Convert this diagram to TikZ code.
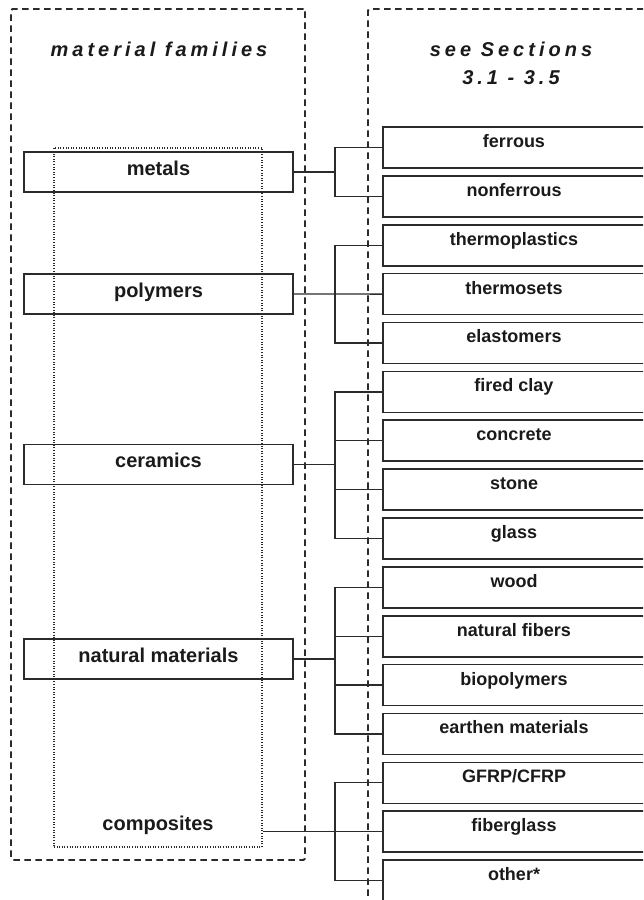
\documentclass[tikz,border=0pt]{standalone}
\usepackage{fontspec}
\setmainfont{Liberation Sans}
\newfontfamily\headfont[LetterSpace=20]{Liberation Sans}
\usetikzlibrary{calc}
\definecolor{ln}{HTML}{2B2B2B}
\definecolor{tx}{HTML}{1A1A1A}
\begin{document}
\begin{tikzpicture}[x=1pt,y=-1pt,
  frame/.style={draw=ln, line width=1.9pt, dash pattern=on 6.5pt off 4.5pt, rounded corners=1.5pt, inner sep=0pt},
  dotbox/.style={draw=ln, line width=1.1pt, dash pattern=on 1pt off 1.6pt, inner sep=0pt},
  fam/.style={draw=ln, line width=1.6pt, minimum width=269pt, minimum height=40pt, inner sep=0pt,
    text height=15pt, text depth=9pt, text=tx, font=\fontsize{20}{24}\selectfont\bfseries},
  sub/.style={draw=ln, line width=1.6pt, minimum width=262pt, minimum height=41pt, inner sep=0pt,
    text height=13pt, text depth=13pt, text=tx, font=\fontsize{18}{22}\selectfont\bfseries},
  head/.style={text=tx, inner sep=0pt, anchor=base, font=\fontsize{20}{24}\headfont\bfseries\itshape},
  conn/.style={draw=ln, line width=1.3pt}]
\useasboundingbox (0,0) rectangle (643,900);
\clip (0,0) rectangle (643,900);
% frames
\node[frame, minimum width=294pt, minimum height=851pt] (lframe) at (158,434.5) {};
\node[frame, minimum width=332pt, minimum height=951pt] (rframe) at (534,484.5) {};
% headings
\node[head] (h1) at (159,56.5) {material families};
\node[head] (h2) at (511,56.5) {see Sections};
\node[head] (h3) at (511,84) {3.1 - 3.5};
% composites dotted box
\node[dotbox, minimum width=208pt, minimum height=699pt] (compbox) at (158,497.5) {};
\node[text=tx, inner sep=0pt, anchor=base, font=\fontsize{20}{24}\selectfont\bfseries] (comp) at (158,830) {composites};
% family boxes
\node[fam] (metals) at (158.5,172) {metals};
\node[fam] (polymers) at (158.5,294) {polymers};
\node[fam] (ceramics) at (158.5,464.5) {ceramics};
\node[fam] (natural) at (158.5,659) {natural materials};
% sub boxes
\foreach \t [count=\i from 0] in {ferrous,nonferrous,thermoplastics,thermosets,elastomers,fired clay,concrete,stone,glass,wood,natural fibers,biopolymers,earthen materials,GFRP/CFRP,fiberglass,other*}
  \node[sub] (r\i) at (514,{147.5+48.87*\i}) {\t};
\coordinate (jx) at (335,0);
% metals
\draw[conn] (metals.east) -- (metals.east -| jx);
\draw[conn] (r0.west) -- (r0.west -| jx) -- (r1.west -| jx) -- (r1.west);
% polymers
\draw[conn] (polymers.east) -- (r3.west);
\draw[conn] (r2.west) -- (r2.west -| jx) -- (r4.west -| jx) -- (r4.west);
% ceramics
\draw[conn] (ceramics.east) -- (ceramics.east -| jx);
\draw[conn] (r5.west) -- (r5.west -| jx) -- (r8.west -| jx) -- (r8.west);
\draw[conn] (r6.west) -- (r6.west -| jx);
\draw[conn] (r7.west) -- (r7.west -| jx);
% natural materials
\draw[conn] (natural.east) -- (natural.east -| jx);
\draw[conn] (r9.west) -- (r9.west -| jx) -- (r12.west -| jx) -- (r12.west);
\draw[conn] (r10.west) -- (r10.west -| jx);
\draw[conn] (r11.west) -- (r11.west -| jx);
% composites
\draw[conn] (compbox.east |- r14.west) -- (r14.west);
\draw[conn] (r13.west) -- (r13.west -| jx) -- (r15.west -| jx) -- (r15.west);
\end{tikzpicture}
\end{document}
